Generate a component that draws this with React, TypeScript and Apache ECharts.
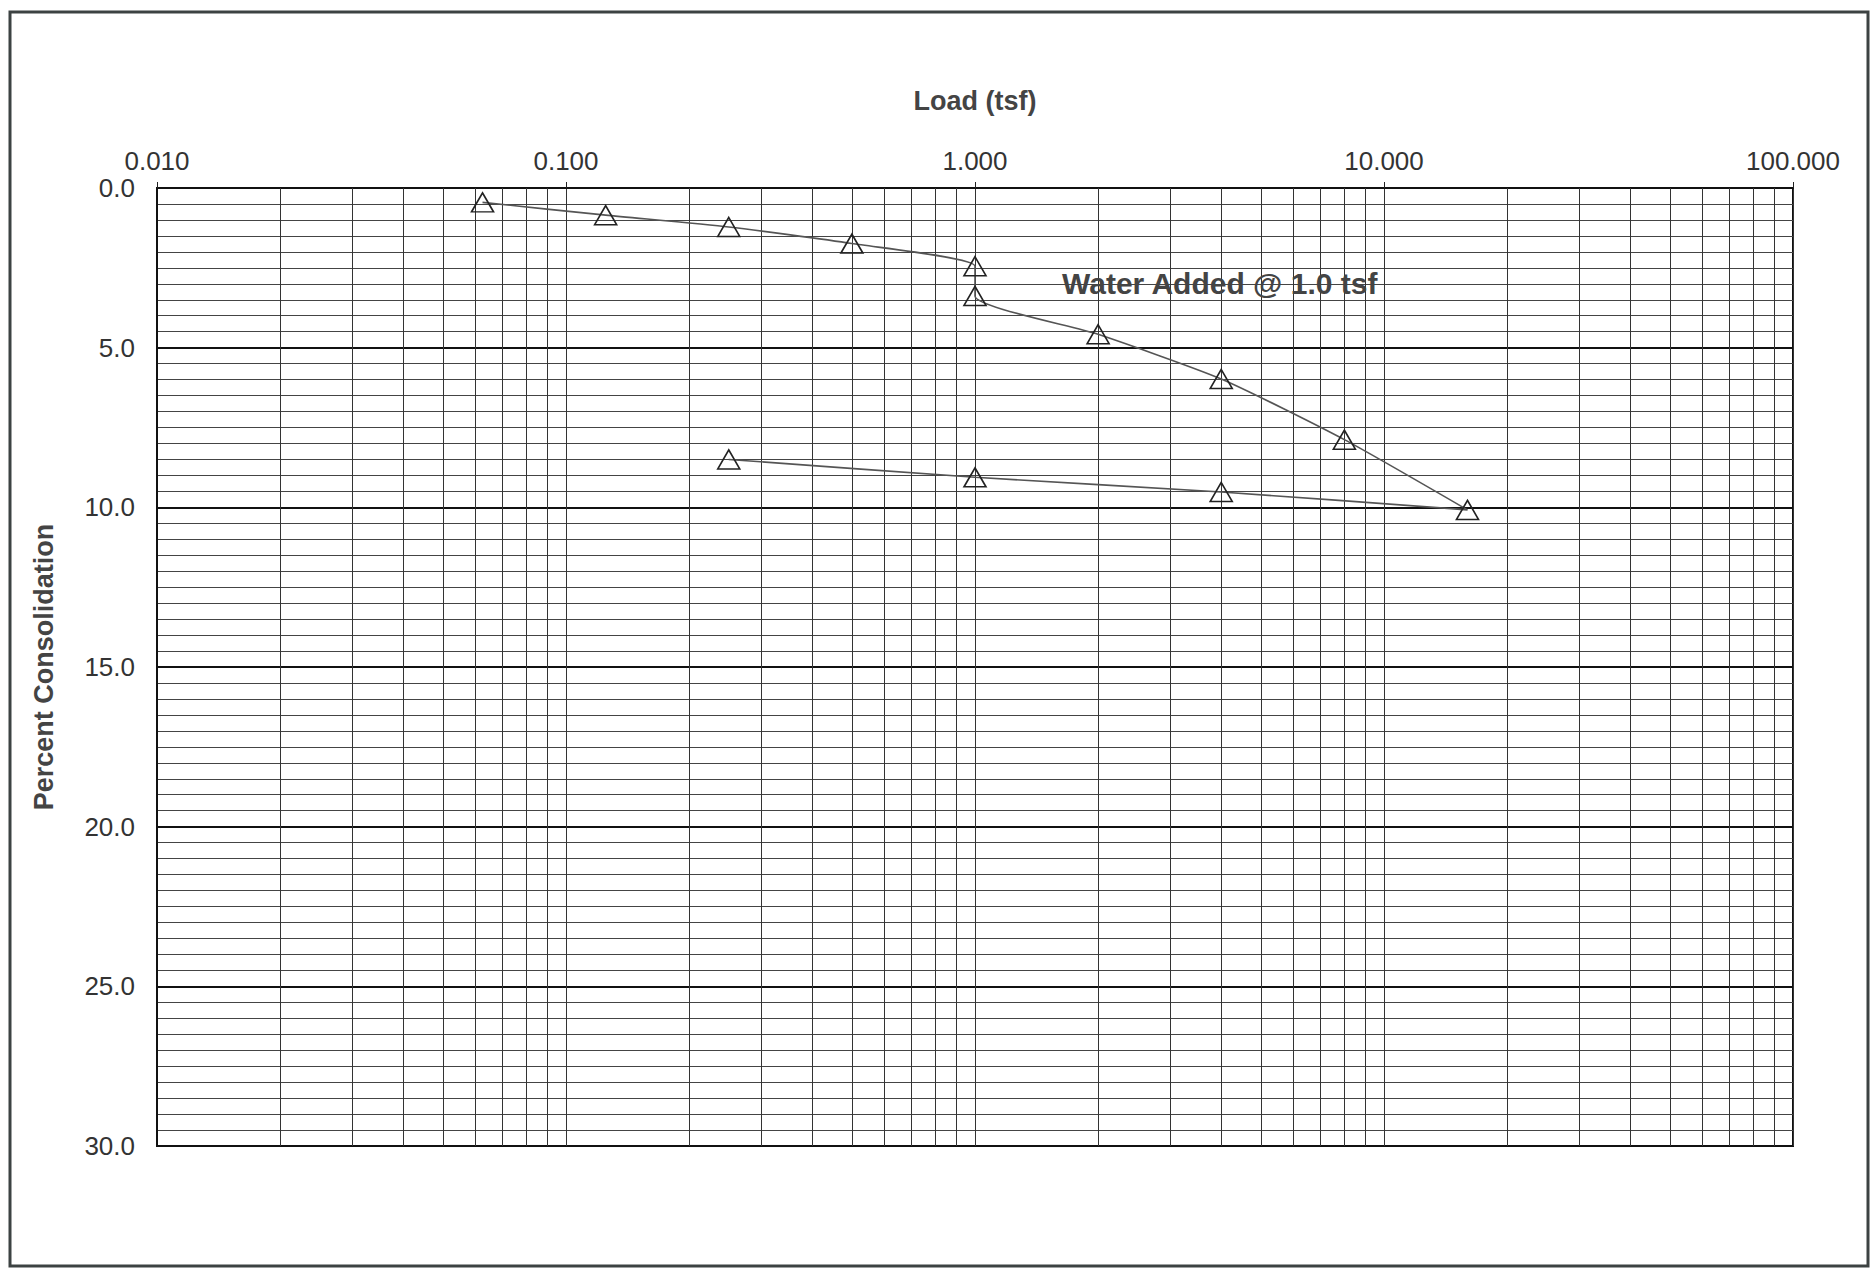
import React, { useEffect, useRef } from "react";
import * as echarts from "echarts";

// Data
const loadTsf = [0.0625, 0.125, 0.25, 0.5, 1.0, 1.0, 2, 4, 8, 16, 4, 1, 0.25];
const percentConsolidation = [0.45, 0.85, 1.22, 1.74, 2.45, 3.38, 4.58, 5.98, 7.88, 10.08, 9.52, 9.06, 8.5];
const decades = [0.01, 0.1, 1, 10];
const minorMultipliers = [2, 3, 4, 5, 6, 7, 8, 9];
const xTitle = "Load (tsf)";
const yTitle = "Percent Consolidation";
const note = "Water Added @ 1.0 tsf";

const FONT = "'Liberation Sans', Arial, sans-serif";

export default function App() {
  const ref = useRef<HTMLDivElement>(null);
  useEffect(() => {
    document.body.style.margin = "0";
    const chart = echarts.init(ref.current!, undefined, { renderer: "svg" });
    const minorX: any[] = [];
    decades.forEach((d) => minorMultipliers.forEach((m) => minorX.push({ xAxis: d * m })));
    const pts = loadTsf.map((x, i) => [x, percentConsolidation[i]]);
    chart.setOption({
      animation: false,
      backgroundColor: "#fff",
      grid: {
        left: 157,
        right: 80,
        top: 188,
        bottom: 132,
        show: true,
        borderColor: "#111",
        borderWidth: 2,
      },
      xAxis: {
        type: "log",
        logBase: 10,
        min: 0.01,
        max: 100,
        position: "top",
        name: xTitle,
        nameLocation: "middle",
        nameGap: 74,
        nameTextStyle: { fontFamily: FONT, fontSize: 27, fontWeight: "bold", color: "#444" },
        axisLine: { show: true, lineStyle: { color: "#111", width: 2 } },
        axisTick: { show: true, length: 6, lineStyle: { color: "#222" } },
        axisLabel: {
          fontFamily: FONT,
          fontSize: 26,
          color: "#333",
          margin: 14,
          formatter: (v: number) => v.toFixed(3),
        },
        splitLine: { show: true, lineStyle: { color: "#333", width: 1 } },
      },
      yAxis: {
        type: "value",
        inverse: true,
        min: 0,
        max: 30,
        interval: 5,
        name: yTitle,
        nameLocation: "middle",
        nameRotate: 90,
        nameGap: 100,
        nameTextStyle: { fontFamily: FONT, fontSize: 27, fontWeight: "bold", color: "#444" },
        axisLine: { show: true, lineStyle: { color: "#111", width: 2 } },
        axisTick: { show: false },
        axisLabel: {
          fontFamily: FONT,
          fontSize: 26,
          color: "#333",
          margin: 22,
          formatter: (v: number) => v.toFixed(1),
        },
        splitLine: { show: true, lineStyle: { color: "#111", width: 2 } },
        minorTick: { show: false, splitNumber: 10 },
        minorSplitLine: { show: true, lineStyle: { color: "#444", width: 1 } },
      },
      series: [
        {
          type: "line",
          data: pts,
          smooth: 0.2,
          symbol: "triangle",
          symbolSize: [22, 19],
          lineStyle: { color: "#555", width: 1.6 },
          itemStyle: { color: "rgba(0,0,0,0)", borderColor: "#222", borderWidth: 1.6 },
          emphasis: { disabled: true },
          silent: true,
          z: 3,
          markLine: {
            silent: true,
            symbol: ["none", "none"],
            label: { show: false },
            lineStyle: { color: "#333", width: 1, type: "solid" },
            emphasis: { disabled: true },
            data: minorX,
            z: 1,
          },
        },
      ],
      graphic: [
        {
          type: "rect",
          shape: { x: 10, y: 12, width: 1858, height: 1254 },
          style: { fill: "none", stroke: "#3c4242", lineWidth: 3 },
          silent: true,
        },
        {
          type: "text",
          left: 1062,
          top: 268,
          style: {
            text: note,
            fontFamily: FONT,
            fontSize: 30,
            fontWeight: "bold",
            fill: "#444",
          },
          z: 10,
        },
      ],
    });
    return () => chart.dispose();
  }, []);
  return (
    <div
      ref={ref}
      style={{ position: "fixed", left: 0, top: 0, width: 1873, height: 1278, background: "#fff" }}
    />
  );
}
